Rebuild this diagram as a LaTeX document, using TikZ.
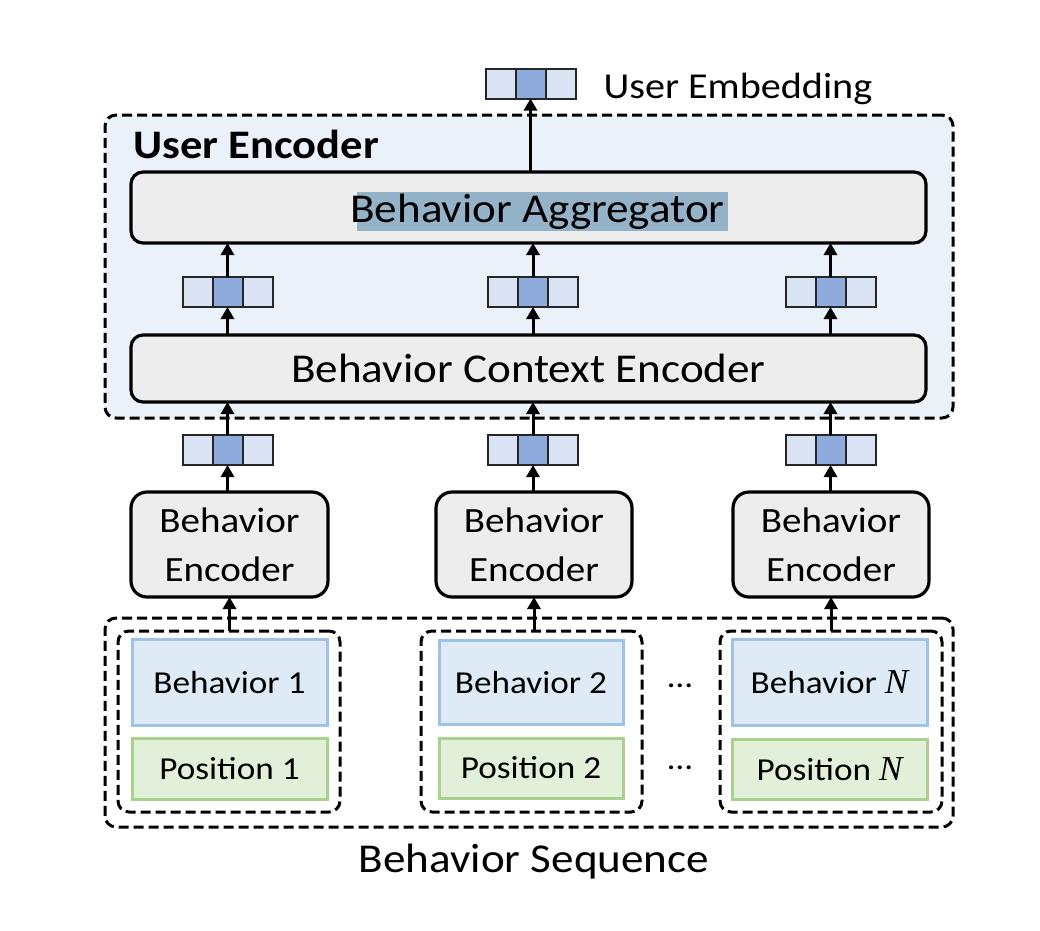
\documentclass[tikz,border=0pt]{standalone}
\usepackage{fontspec}
\setmainfont{Carlito}[FakeStretch=1.1]
\newfontfamily\nfont{Liberation Serif}
\usetikzlibrary{arrows.meta}
\definecolor{embL}{HTML}{DAE3F3}
\definecolor{embM}{HTML}{8FAADC}
\definecolor{uefill}{HTML}{EBF1F8}
\definecolor{boxgray}{HTML}{EDEDED}
\definecolor{hlcol}{HTML}{95B3C8}
\definecolor{behfill}{HTML}{DEEBF7}
\definecolor{behdraw}{HTML}{9DC3E6}
\definecolor{posfill}{HTML}{E2F0D9}
\definecolor{posdraw}{HTML}{A9D18E}
\definecolor{celldraw}{HTML}{262626}
\newcommand\NN{{\nfont\itshape\fontsize{35}{40}\selectfont N}}
\tikzset{
  cellL/.style={draw=celldraw, fill=embL, line width=2pt, minimum width=30pt, minimum height=30pt, inner sep=0pt, outer sep=0pt},
  cellM/.style={draw=celldraw, fill=embM, line width=2pt, minimum width=30pt, minimum height=30pt, inner sep=0pt, outer sep=0pt},
  dashbox/.style={draw=black, line width=3pt, dash pattern=on 10pt off 5pt, rounded corners=11pt, inner sep=0pt, outer sep=0pt},
  graybox/.style={draw=black, fill=boxgray, line width=3.2pt, rounded corners=12pt, inner sep=0pt, outer sep=0pt, align=center},
  behbox/.style={draw=behdraw, fill=behfill, line width=3pt, inner sep=0pt, outer sep=0pt, font=\fontsize{32}{38}\selectfont},
  posbox/.style={draw=posdraw, fill=posfill, line width=3pt, inner sep=0pt, outer sep=0pt, font=\fontsize{32}{38}\selectfont},
  arr/.style={line width=3pt, -{Triangle[length=12pt,width=13pt]}},
  bigfont/.style={font=\fontsize{41}{49}\selectfont},
  midfont/.style={font=\fontsize{35.5}{49}\selectfont},
}
\newcommand\myemb[3]{%
  \node[cellM] (#1) at (#2,#3) {};
  \node[cellL, anchor=east] (#1l) at (#1.west) {};
  \node[cellL, anchor=west] (#1r) at (#1.east) {};
}
\begin{document}
\begin{tikzpicture}[x=1pt,y=-1pt]
\useasboundingbox (0,0) rectangle (1040,930);
% User encoder container
\node[dashbox, fill=uefill, minimum width=848pt, minimum height=303pt] (uenc) at (529,266.5) {};
\node[anchor=base west, font=\fontsize{40.5}{48}\selectfont\bfseries] (uelabel) at (130,158) {User Encoder};
% aggregator
\node[graybox, minimum width=795pt, minimum height=71pt] (agg) at (528.5,207.5) {};
\node[fill=hlcol, inner sep=0pt, minimum width=371pt, minimum height=39pt, bigfont] (aggt) at (542.5,211.5) {\hspace*{-10pt}Behavior Aggregator};
% context encoder
\node[graybox, minimum width=795pt, minimum height=67pt, bigfont] (ctx) at (528.5,368.5) {Behavior Context Encoder};
% top embedding
\myemb{etop}{530.5}{83.5}
\node[anchor=base west, font=\fontsize{36.5}{44}\selectfont] (uemb) at (600,98) {User Embedding};
\draw[arr] (agg.north -| etop.south) -- (etop.south);
% embeddings rows
\myemb{ea1}{227.5}{292}
\myemb{ea2}{533}{292}
\myemb{ea3}{830.5}{292}
\myemb{eb1}{227.5}{450}
\myemb{eb2}{533}{450}
\myemb{eb3}{830.5}{450}
% behavior encoders
\node[graybox, rounded corners=16pt, minimum width=197pt, minimum height=105pt, midfont] (be1) at (229.5,544.5) {Behavior\\Encoder};
\node[graybox, rounded corners=16pt, minimum width=196pt, minimum height=105pt, midfont] (be2) at (534,544.5) {Behavior\\Encoder};
\node[graybox, rounded corners=16pt, minimum width=196pt, minimum height=105pt, midfont] (be3) at (831,544.5) {Behavior\\Encoder};
% sequence
\node[dashbox, minimum width=848pt, minimum height=209pt] (seq) at (529,722.5) {};
\node[dashbox, minimum width=222pt, minimum height=181pt] (in1) at (229,721.5) {};
\node[dashbox, minimum width=221pt, minimum height=181pt] (in2) at (531.5,721.5) {};
\node[dashbox, minimum width=222pt, minimum height=181pt] (in3) at (831,721.5) {};
\node[behbox, minimum width=195pt, minimum height=86pt] (b1) at (229.5,682) {Behavior 1};
\node[behbox, minimum width=184pt, minimum height=84pt] (b2) at (531,682) {Behavior 2};
\node[behbox, minimum width=195pt, minimum height=86pt] (b3) at (829.5,682) {Behavior \NN};
\node[posbox, minimum width=195pt, minimum height=61pt] (p1) at (229.5,768.5) {Position 1};
\node[posbox, minimum width=184pt, minimum height=60pt] (p2) at (531,768) {Position 2};
\node[posbox, minimum width=195pt, minimum height=60pt] (p3) at (829.5,769) {Position \NN};
\node[anchor=base, font=\fontsize{32}{38}\selectfont] (d1) at (680,687) {…};
\node[anchor=base, font=\fontsize{32}{38}\selectfont] (d2) at (680,769) {…};
\node[anchor=base, bigfont] (seqlabel) at (534,872) {Behavior Sequence};
% arrows
\foreach \i in {1,2,3} {
  \draw[arr] (ea\i.north) -- (ea\i.north |- agg.south);
  \draw[arr] (ctx.north -| ea\i.south) -- (ea\i.south);
  \draw[arr] (eb\i.north) -- (eb\i.north |- ctx.south);
  \draw[arr] (be\i.north -| eb\i.south) -- (eb\i.south);
  \draw[arr] (in\i.north -| be\i.south) -- (be\i.south);
}
\end{tikzpicture}
\end{document}
